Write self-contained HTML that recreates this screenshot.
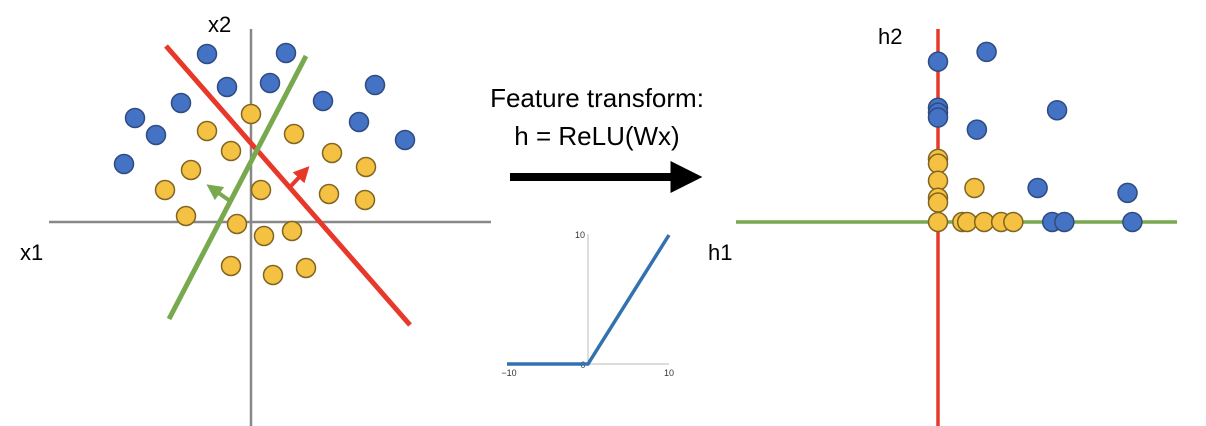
<!DOCTYPE html>
<html><head><meta charset="utf-8"><style>
body{margin:0;background:#fff;width:1206px;height:426px;overflow:hidden}
svg{display:block;font-family:"Liberation Sans",sans-serif}
</style></head><body>
<svg id="fig" width="1206" height="426">
<defs>
<marker id="ar" viewBox="0 0 10 10" refX="5" refY="5" markerWidth="4" markerHeight="4" orient="auto"><path d="M0,0L10,5L0,10z" fill="#e8382a"/></marker>
<marker id="ag" viewBox="0 0 10 10" refX="5" refY="5" markerWidth="4" markerHeight="4" orient="auto"><path d="M0,0L10,5L0,10z" fill="#79a94f"/></marker>
<marker id="ak" viewBox="0 0 10 10" refX="3" refY="5" markerWidth="4" markerHeight="4" orient="auto"><path d="M0,0L10,5L0,10z" fill="#000"/></marker>
</defs>
<g>
<line x1="251" y1="29" x2="251" y2="426" stroke="#888" stroke-width="2.5"/>
<line x1="49" y1="222" x2="491" y2="222" stroke="#888" stroke-width="2.5"/>
<text x="208" y="32" font-size="22">x2</text>
<text x="20" y="260" font-size="22">x1</text>
<line x1="166" y1="46" x2="410" y2="325" stroke="#e8382a" stroke-width="5"/>
<line x1="306" y1="56" x2="169" y2="319" stroke="#79a94f" stroke-width="5"/>
<line x1="290" y1="187" x2="304" y2="172" stroke="#e8382a" stroke-width="4" marker-end="url(#ar)"/>
<line x1="230" y1="201" x2="213" y2="189" stroke="#79a94f" stroke-width="4" marker-end="url(#ag)"/>
<g id="leftPts"></g>
</g>
<g>
<text x="597" y="107" font-size="26" text-anchor="middle">Feature transform:</text>
<text x="597" y="145" font-size="26" text-anchor="middle">h = ReLU(Wx)</text>
<line x1="510" y1="177" x2="680" y2="177" stroke="#000" stroke-width="8" marker-end="url(#ak)"/>
</g>
<g font-size="9" fill="#333">
<line x1="588" y1="234" x2="588" y2="364" stroke="#bbb" stroke-width="1"/>
<line x1="507" y1="364" x2="669" y2="364" stroke="#bbb" stroke-width="1"/>
<text x="585" y="238" text-anchor="end">10</text>
<text x="583" y="368" text-anchor="middle">0</text>
<text x="509" y="376" text-anchor="middle">−10</text>
<text x="669" y="376" text-anchor="middle">10</text>
<polyline id="reluLine" fill="none" stroke="#3272b0" stroke-width="3.5"/>
</g>
<g>
<line x1="736" y1="222" x2="1177" y2="222" stroke="#79a94f" stroke-width="3.5"/>
<line x1="938" y1="29" x2="938" y2="426" stroke="#e8382a" stroke-width="3.5"/>
<text x="878" y="44" font-size="22">h2</text>
<text x="708" y="260" font-size="22">h1</text>
<g id="rightPts"></g>
</g>
</svg>
<script>
const leftBlueX=[207,286,227,270,181,323,375,135,156,359,405,124];
const leftBlueY=[54,53,87,83,103,101,85,118,135,122,140,164];
const leftYellowX=[251,207,294,231,332,191,366,165,261,329,365,186,237,264,292,231,273,306];
const leftYellowY=[114,131,134,151,153,170,167,190,190,194,200,216,224,236,231,266,275,268];
const rightBlueH1=[0,2.0,0,0,0,1.6,4.9,4.1,7.8,4.7,5.2,8.0];
const rightBlueH2=[6.6,7.0,4.7,4.5,4.3,3.8,4.6,1.4,1.2,0,0,0];
const rightYellowH1=[0,0,0,0,0,0,1.0,1.2,1.9,2.6,3.1,1.5];
const rightYellowH2=[2.6,2.4,1.7,1.0,0.8,0,0,0,0,0,0,1.4];
const reluX=[-10,0,10];
const reluY=[0,0,10];
const NS="http://www.w3.org/2000/svg";
const hx=v=>938+v*24.3, hy=v=>222-v*24.3;
const rx=v=>588+v*8.1, ry=v=>364-v*12.9;
function dot(g,x,y,fill,stroke,name){
 const c=document.createElementNS(NS,'circle');
 c.setAttribute('cx',x);c.setAttribute('cy',y);c.setAttribute('r',9.5);
 c.setAttribute('fill',fill);c.setAttribute('stroke',stroke);c.setAttribute('stroke-width',1.5);
 
 
 g.appendChild(c);
}
const B='#4472c4',BS='#2f4b80',Y='#f5c142',YS='#7f6520';
const lg=document.getElementById('leftPts');
leftBlueX.forEach((x,i)=>dot(lg,x,leftBlueY[i],B,BS,'blue-point'));
leftYellowX.forEach((x,i)=>dot(lg,x,leftYellowY[i],Y,YS,'yellow-point'));
const rg=document.getElementById('rightPts');
rightYellowH1.forEach((v,i)=>dot(rg,hx(v),hy(rightYellowH2[i]),Y,YS,'yellow-point'));
rightBlueH1.forEach((v,i)=>dot(rg,hx(v),hy(rightBlueH2[i]),B,BS,'blue-point'));
document.getElementById('reluLine').setAttribute('points',reluX.map((x,i)=>rx(x)+','+ry(reluY[i])).join(' '));
</script>
</body></html>
